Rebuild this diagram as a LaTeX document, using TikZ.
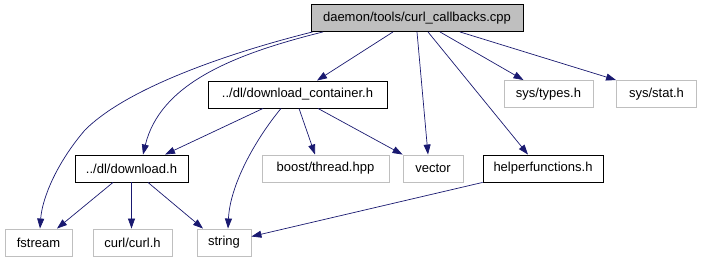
\documentclass[tikz,border=0pt]{standalone}
\usepackage{fontspec}
\setmainfont{Liberation Sans}
\usetikzlibrary{arrows.meta}
\definecolor{edgeblue}{HTML}{191970}
\definecolor{boxgray}{HTML}{BFBFBF}
\definecolor{extgray}{HTML}{BFBFBF}
\tikzset{
  file/.style={draw=black, line width=0.9pt, inner sep=0pt, minimum height=27pt,
    font=\fontsize{13}{15}\selectfont, text=black},
  extfile/.style={file, draw=extgray},
  rootfile/.style={file, fill=boxgray},
  dep/.style={draw=edgeblue, line width=0.7pt,
    -{Triangle[length=10pt,width=7pt]}},
}
\begin{document}
\begin{tikzpicture}[x=1pt, y=-1pt]
\useasboundingbox (0,0) rectangle (701,261);

% files
\node[rootfile, minimum width=212pt] (top) at (417,18) {daemon/tools/curl\_callbacks.cpp};
\node[file, minimum width=179pt] (dc) at (297.5,94.5) {../dl/download\_container.h};
\node[extfile, minimum width=89pt] (types) at (548.5,94) {sys/types.h};
\node[extfile, minimum width=80pt] (stat) at (656.5,94) {sys/stat.h};
\node[file, minimum width=113pt] (dl) at (131.5,168.5) {../dl/download.h};
\node[extfile, minimum width=127pt] (boost) at (325.5,168.5) {boost/thread.hpp};
\node[extfile, minimum width=60pt] (vector) at (433,168.5) {vector};
\node[file, minimum width=120pt] (helper) at (543,168.5) {helperfunctions.h};
\node[extfile, minimum width=67pt] (fs) at (38.5,242.5) {fstream};
\node[extfile, minimum width=79pt] (curl) at (132.5,242.5) {curl/curl.h};
\node[extfile, minimum width=54pt] (str) at (224,242.5) {string};

% includes of curl_callbacks.cpp
\draw[dep] ([xshift=2pt]top.south west) .. controls (240,50) and (130,85) .. (85,130)
  .. controls (55,165) and (42,200) .. ([xshift=1.5pt]fs.north);
\draw[dep] ([xshift=-94pt]top.south) .. controls (230,55) and (160,85) .. ([xshift=11.5pt]dl.north);
\draw[dep] ([xshift=-24pt]top.south) -- ([xshift=19.5pt]dc.north);
\draw[dep] (top.south) -- ([xshift=-5pt]vector.north);
\draw[dep] ([xshift=11pt]top.south) -- ([xshift=-15pt]helper.north);
\draw[dep] ([xshift=23pt]top.south) -- ([xshift=-25pt]types.north);
\draw[dep] ([xshift=43pt]top.south) -- (stat.north west);

% includes of download_container.h
\draw[dep] ([xshift=-34.5pt]dc.south) -- ([xshift=33.5pt]dl.north);
\draw[dep] ([xshift=-16.5pt]dc.south) .. controls (255,140) and (230,185) .. ([xshift=4pt]str.north);
\draw[dep] ([xshift=1.5pt]dc.south) -- ([xshift=-10.5pt]boost.north);
\draw[dep] ([xshift=20.5pt]dc.south) -- (vector.north west);

% includes of download.h
\draw[dep] ([xshift=-18.5pt]dl.south) -- ([xshift=18.5pt]fs.north);
\draw[dep] (dl.south) -- (dl.south |- curl.north);
\draw[dep] ([xshift=16.5pt]dl.south) -- ([xshift=-21pt]str.north);

% includes of helperfunctions.h
\draw[dep] (helper.south west) -- ([yshift=6pt]str.east);
\end{tikzpicture}
\end{document}
